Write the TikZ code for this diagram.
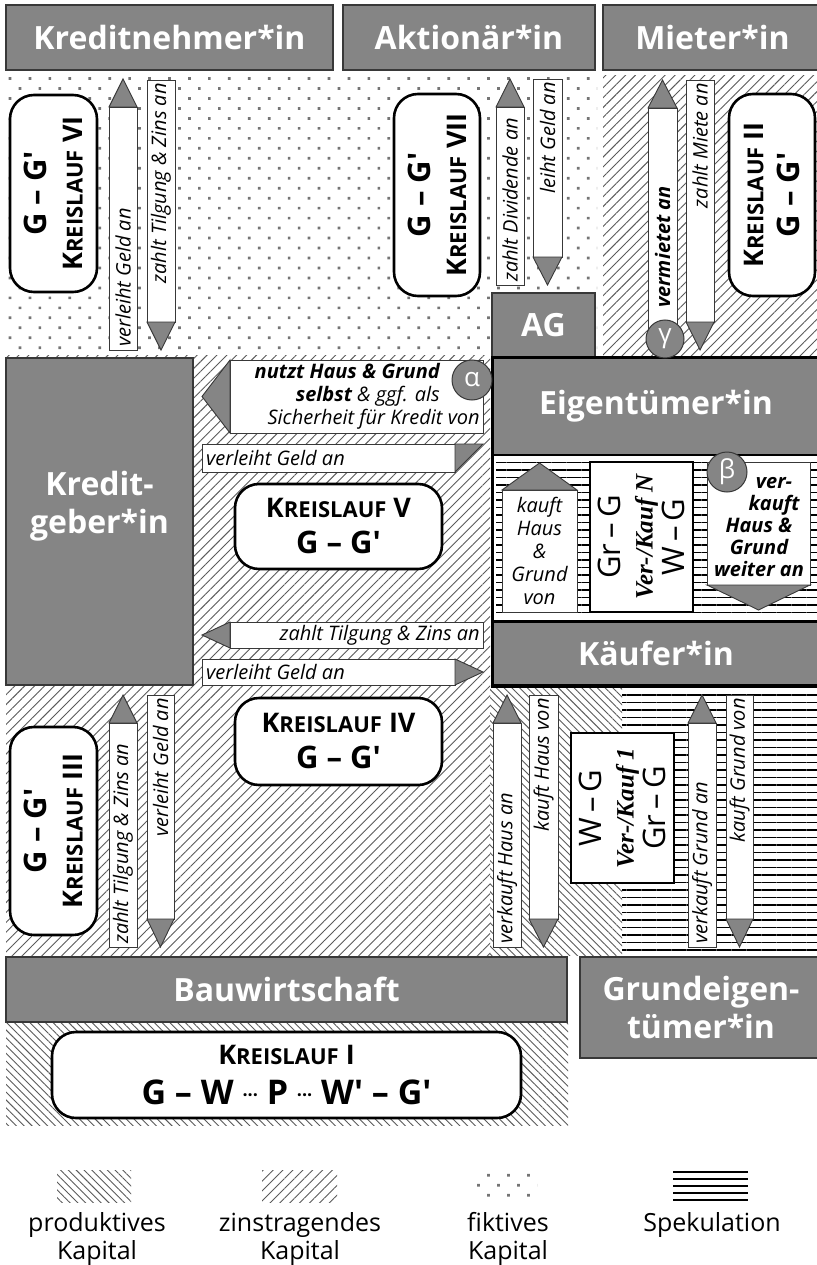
\documentclass[tikz,border=0pt]{standalone}
\usepackage{fontspec}
\setmainfont{Open Sans}
\newfontfamily\kfont[Ligatures=TeXOff]{Open Sans}
\newfontfamily\vkfont{Liberation Serif}
\usepackage{xcolor}
\usepackage{tikz}
\usetikzlibrary{patterns.meta, positioning}

\definecolor{boxgray}{HTML}{858585}
\definecolor{edgegray}{HTML}{383838}
\definecolor{hatchgray}{HTML}{5A5A5A}
\definecolor{dotgray}{HTML}{747474}

\newcommand{\KL}[1]{{\bfseries\fontsize{27}{36}\selectfont K\fontsize{22}{36}\selectfont REISLAUF\fontsize{27}{36}\selectfont\ #1}}
\newcommand{\GG}{{\kfont\bfseries\fontsize{31}{36}\selectfont G – G'}}
\newcommand{\Dts}{\raisebox{3pt}{\fontsize{18}{18}\selectfont ···}}

% vertical arrows: name, left x, right x, top y, bottom y, label
\newcommand{\UpArr}[6]{%
  \draw[arrbody] (#2,#4+28) rectangle (#3,#5);
  \draw[arrtip] (#2,#4+28) -- ({(#2+#3)/2},#4) -- (#3,#4+28) -- cycle;
  \node[lbl, rotate=90, anchor=west] (#1) at ({(#2+#3)/2},#5-3) {#6};}
\newcommand{\DownArr}[6]{%
  \draw[arrbody] (#2,#4) rectangle (#3,#5-28);
  \draw[arrtip] (#2,#5-28) -- ({(#2+#3)/2},#5) -- (#3,#5-28) -- cycle;
  \node[lbl, rotate=90, anchor=east] (#1) at ({(#2+#3)/2},#4+3) {#6};}
% horizontal arrows: name, left x, right x, top y, bottom y, label
\newcommand{\LeftArr}[6]{%
  \draw[arrbody] (#2+28,#4) rectangle (#3,#5);
  \draw[arrtip] (#2+28,#4) -- (#2,{(#4+#5)/2}) -- (#2+28,#5) -- cycle;
  \node[lbl, anchor=east, align=right] (#1) at (#3-3,{(#4+#5)/2}) {#6};}
\newcommand{\RightArr}[6]{%
  \draw[arrbody] (#2,#4) rectangle (#3-28,#5);
  \draw[arrtip] (#3-28,#4) -- (#3,{(#4+#5)/2}) -- (#3-28,#5) -- cycle;
  \node[lbl, anchor=west] (#1) at (#2+4,{(#4+#5)/2}) {#6};}

\begin{document}
\begin{tikzpicture}[x=1pt, y=-1pt]
        \tikzstyle{actor} = [rectangle, draw=edgegray, line width=1.2pt, fill=boxgray, text=white, align=center, font=\bfseries\fontsize{32}{38}\selectfont]
        \tikzstyle{kreis} = [rectangle, draw=black, line width=2.6pt, fill=white, rounded corners=24pt, align=center, font=\fontsize{27}{36}\selectfont]
        \tikzstyle{tausch} = [rectangle, draw=black, line width=2.2pt, fill=white, align=center, font=\kfont\fontsize{31}{32}\selectfont]
        \tikzstyle{arrbody} = [draw=edgegray, line width=0.9pt, fill=white]
        \tikzstyle{arrtip} = [draw=edgegray, line width=0.9pt, fill=boxgray, line join=miter]
        \tikzstyle{lbl} = [inner sep=0pt, font=\itshape\fontsize{20}{23}\selectfont]
        \tikzstyle{greek} = [circle, draw=edgegray, line width=1pt, fill=boxgray, text=white, minimum size=40pt, inner sep=0pt, font=\fontsize{26}{26}\selectfont]
        \tikzstyle{legend} = [align=center, font=\fontsize{25}{28}\selectfont]
        \tikzstyle{fiktiv} = [pattern={Dots[angle=45,distance=14.1pt,radius=1.9pt]}, pattern color=dotgray]
        \tikzstyle{zins} = [pattern={Lines[angle=45,distance=7pt,line width=0.9pt]}, pattern color=hatchgray]
        \tikzstyle{prod} = [pattern={Lines[angle=-45,distance=5.5pt,line width=0.9pt]}, pattern color=hatchgray]
        \tikzstyle{spek} = [pattern={Lines[angle=0,distance=7.5pt,line width=1.5pt]}, pattern color=black]

        \useasboundingbox (0,0) rectangle (816,1265);

        % kinds of capital
        \fill[fiktiv] (6,76) rectangle (597,355);
        \fill[zins] (603,76) rectangle (820,357);
        \fill[zins] (6,355) rectangle (490,955);
        \fill[prod] (490,687) rectangle (622,955);
        \fill[spek] (622,690) rectangle (820,950);
        \fill[prod] (6,1022) rectangle (568,1125);

        % actors
        \node [actor, minimum width=327pt, minimum height=65pt] (kn) at (169.5,37.5) {Kreditnehmer*in};
        \node [actor, minimum width=252pt, minimum height=65pt] (akt) at (469,37.5) {Aktionär*in};
        \node [actor, minimum width=219pt, minimum height=65pt] (mieter) at (712.5,37.5) {Mieter*in};
        \node [actor, minimum width=103pt, minimum height=64pt] (ag) at (543.5,325) {AG};
        \node [actor, minimum width=187pt, minimum height=327pt] (kg) at (99.5,521.5) {};
        \node [text=white, align=center, font=\bfseries\fontsize{32}{38}\selectfont, yshift=15pt] (kgtext) at (kg.center) {Kredit-\\geber*in};
        \node [actor, minimum width=561pt, minimum height=65pt] (bau) at (286.5,989.5) {Bauwirtschaft};
        \node [actor, minimum width=242pt, minimum height=101pt] (grund) at (701,1007.5) {Grundeigen-\\tümer*in};

        % owner block
        \fill[white] (492,357) rectangle (820,686);
        \fill[spek] (496,461) rectangle (820,616);
        \node [actor, draw=black, line width=2.5pt, minimum width=328pt, minimum height=97pt] (eig) at (656,406.5) {Eigentümer*in};
        \node [actor, draw=black, line width=2.5pt, minimum width=328pt, minimum height=64pt] (kf) at (656,653.5) {Käufer*in};
        \draw [line width=3pt] (492,357) rectangle (822,686);

        % money and goods flows
        \UpArr{vg1}{109}{137}{79}{350}{verleiht Geld an}
        \DownArr{zt1}{147}{175}{80}{350}{zahlt Tilgung \& Zins an}
        \UpArr{zd}{496}{524}{79}{285}{zahlt Dividende an}
        \DownArr{lg}{533}{562}{79}{285}{leiht Geld an}
        \UpArr{vm}{648}{677}{80}{347}{\hspace*{36pt}\bfseries vermietet an}
        \DownArr{zm}{686}{714}{80}{350}{zahlt Miete an}
        \UpArr{zt2}{109}{137}{695}{947}{zahlt Tilgung \& Zins an}
        \DownArr{vg3}{147}{174}{695}{947}{verleiht Geld an}
        \UpArr{vh}{493}{521}{695}{947}{verkauft Haus an}
        \DownArr{kh}{529}{558}{695}{947}{kauft Haus von}
        \UpArr{vgr}{688}{716}{695}{947}{verkauft Grund an}
        \DownArr{kgr}{726}{753}{695}{947}{kauft Grund von}

        \LeftArr{nutzt}{202}{483}{360}{433}{{\bfseries nutzt Haus \& Grund}\makebox[40pt]{}\\{\bfseries selbst} \& ggf. als\makebox[40pt]{}\\Sicherheit für Kredit von}
        \draw [arrbody] (202,444) rectangle (455,472);
        \draw [arrtip] (455,444) -- (483,444) -- (455,472) -- cycle;
        \node [lbl, anchor=west] (vg2) at (206,458) {verleiht Geld an};
        \LeftArr{zt3}{202}{483}{622}{648}{zahlt Tilgung \& Zins an}
        \RightArr{vg4}{202}{483}{659}{685}{verleiht Geld an}

        \draw [arrbody] (502,490) rectangle (577,612);
        \draw [arrtip] (502,490) -- (539.5,463) -- (577,490) -- cycle;
        \node [lbl, align=center] (khg) at (539.5,551) {kauft\\Haus\\\&\\Grund\\von};
        \draw [arrbody] (707,462) rectangle (810,585);
        \draw [arrtip] (707,585) -- (758.5,610) -- (810,585) -- cycle;
        \node [lbl, align=center, font=\bfseries\itshape\fontsize{20}{22}\selectfont] (vkw) at (759,527) {\hspace*{30pt}ver-\\\hspace*{30pt}kauft\\Haus \&\\Grund\\weiter an};

        % exchanges
        \node [tausch, rotate=90, minimum width=150pt, minimum height=103pt] (kaufN) at (641.5,537) {Gr\,–\,G\\{\vkfont\bfseries\itshape\fontsize{25}{32}\selectfont Ver-/Kauf N}\\W\,–\,G};
        \node [tausch, rotate=90, minimum width=150pt, minimum height=103pt] (kauf1) at (622.5,808) {W\,–\,G\\{\vkfont\bfseries\itshape\fontsize{25}{32}\selectfont Ver-/Kauf 1}\\Gr\,–\,G};

        % circuits
        \node [kreis, rotate=90, minimum width=197pt, minimum height=87pt] (k6) at (53.5,193.5) {\GG\\\KL{VI}};
        \node [kreis, rotate=90, minimum width=202pt, minimum height=86pt] (k7) at (437,195) {\GG\\\KL{VII}};
        \node [kreis, rotate=90, minimum width=202pt, minimum height=86pt] (k2) at (772,195) {\KL{II}\\\GG};
        \node [kreis, rotate=90, minimum width=208pt, minimum height=87pt] (k3) at (53.5,831) {\GG\\\KL{III}};
        \node [kreis, minimum width=207pt, minimum height=85pt] (k5) at (338.5,526.5) {\KL{V}\\\GG};
        \node [kreis, minimum width=207pt, minimum height=87pt] (k4) at (338.5,741.5) {\KL{IV}\\\GG};
        \node [kreis, minimum width=469pt, minimum height=86pt, font=\fontsize{27}{40}\selectfont] (k1) at (286.5,1075) {\KL{I}\\{\kfont\bfseries\fontsize{34}{40}\selectfont G – W \Dts{} P \Dts{} W' – G'}};

        % markers
        \node [greek] (alpha) at (472,380) {α};
        \node [greek] (beta) at (727,472) {β};
        \node [greek, minimum size=38pt] (gamma) at (665,339) {γ};

        % legend
        \fill[prod] (57,1170) rectangle (131,1202);
        \fill[zins] (262,1170) rectangle (337,1202);
        \fill[fiktiv] (473,1170) rectangle (537,1202);
        \foreach \y in {1172,1179,1186,1193,1200}
            \draw [line width=1.4pt] (673,\y) -- (748,\y);
        \node [legend] (lprod) at (97,1239) {produktives\\Kapital};
        \node [legend] (lzins) at (300,1239) {zinstragendes\\Kapital};
        \node [legend] (lfikt) at (508,1239) {fiktives\\Kapital};
        \node [legend] (lspek) at (712,1225) {Spekulation};
    \end{tikzpicture}
\end{document}
